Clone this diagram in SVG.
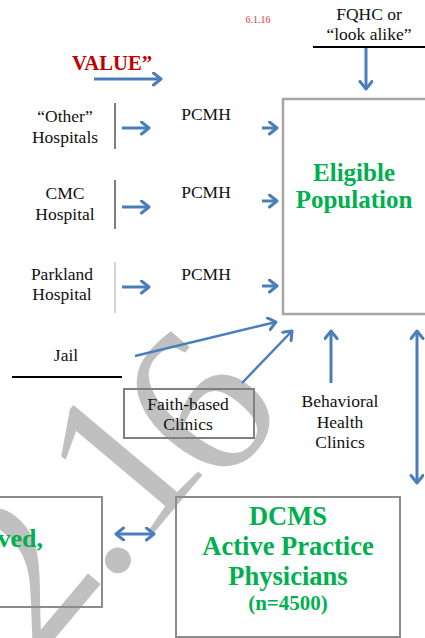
<svg xmlns="http://www.w3.org/2000/svg" width="425" height="638" viewBox="0 0 425 638">
<style>
.lbl{font-family:"Liberation Serif",serif;font-size:17.5px;fill:#111;text-anchor:middle}
.grn{font-family:"Liberation Serif",serif;font-weight:bold;fill:#00b050;text-anchor:middle}
.arr{stroke:#4a7ebb;stroke-width:3;fill:none}
.arrt{stroke:#4a7ebb;stroke-width:2.5;fill:none}
.box{fill:none;stroke:#8c8c8c;stroke-width:2}
</style>
<defs>
<marker id="ah" markerUnits="userSpaceOnUse" markerWidth="14" markerHeight="16" refX="9" refY="7" orient="auto-start-reverse">
<path d="M1.5,1 L9,7 L1.5,13" fill="none" stroke="#4a7ebb" stroke-width="3" stroke-linecap="round" stroke-linejoin="round"/>
</marker>
</defs>
<rect width="425" height="638" fill="#ffffff"/>
<g id="watermark">
<text transform="translate(38,671) rotate(-50)" x="10 109 160 252" y="-8 0 0 24" font-family="Liberation Serif, serif" font-size="218" fill="#c0c0c0">2.16</text>
</g>
<g id="date"><text x="258" y="23" font-family="Liberation Serif, serif" font-size="10" fill="#e8363c" text-anchor="middle">6.1.16</text></g>
<g id="fqhc">
<text class="lbl" x="369" y="20">FQHC or</text>
<text class="lbl" x="369" y="40">“look alike”</text>
<line x1="313" y1="47" x2="425" y2="47" stroke="#000" stroke-width="2"/>
</g>
<g id="value"><text x="112" y="70" font-family="Liberation Serif, serif" font-weight="bold" font-size="22" fill="#c00000" text-anchor="middle" textLength="80" lengthAdjust="spacingAndGlyphs">VALUE”</text></g>
<g id="other-hospitals">
<text class="lbl" x="65" y="122">“Other”</text>
<text class="lbl" x="65" y="143">Hospitals</text>
<line x1="115" y1="103" x2="115" y2="149" stroke="#808080" stroke-width="2"/>
</g>
<g id="pcmh1"><text class="lbl" x="206" y="120">PCMH</text></g>
<g id="cmc-hospital">
<text class="lbl" x="65" y="199">CMC</text>
<text class="lbl" x="65" y="220">Hospital</text>
<line x1="115" y1="180" x2="115" y2="229" stroke="#808080" stroke-width="2"/>
</g>
<g id="pcmh2"><text class="lbl" x="206" y="198">PCMH</text></g>
<g id="parkland-hospital">
<text class="lbl" x="62" y="280">Parkland</text>
<text class="lbl" x="62" y="300">Hospital</text>
<line x1="115" y1="262" x2="115" y2="313" stroke="#d4d4d4" stroke-width="2"/>
</g>
<g id="pcmh3"><text class="lbl" x="206" y="280">PCMH</text></g>
<g id="eligible-population">
<rect x="283" y="99" width="150" height="215" fill="none" stroke="#a6a6a6" stroke-width="2.5"/>
<text class="grn" x="354" y="181" font-size="25">Eligible</text>
<text class="grn" x="354" y="208" font-size="25">Population</text>
</g>
<g id="jail">
<text class="lbl" x="66" y="361">Jail</text>
<line x1="12" y1="377" x2="122" y2="377" stroke="#000" stroke-width="2"/>
</g>
<g id="faith-based">
<rect x="124" y="389" width="130" height="49" fill="none" stroke="#808080" stroke-width="2"/>
<text class="lbl" x="188" y="410">Faith-based</text>
<text class="lbl" x="188" y="430">Clinics</text>
</g>
<g id="behavioral">
<text class="lbl" x="340" y="407">Behavioral</text>
<text class="lbl" x="340" y="428">Health</text>
<text class="lbl" x="340" y="448">Clinics</text>
</g>
<g id="left-box">
<rect x="-20" y="497" width="122" height="110" class="box"/>
<text class="grn" x="43" y="547" font-size="26" style="text-anchor:end">ved,</text>
</g>
<g id="dcms">
<rect x="176" y="497" width="224" height="140" class="box"/>
<text class="grn" x="288" y="525" font-size="26.5">DCMS</text>
<text class="grn" x="288" y="555" font-size="26.5">Active Practice</text>
<text class="grn" x="288" y="585" font-size="26.5">Physicians</text>
<text class="grn" x="288" y="610" font-size="21">(n=4500)</text>
</g>
<g id="connectors">
<line class="arr" x1="366" y1="48" x2="366" y2="89" marker-end="url(#ah)"/>
<line class="arr" x1="94" y1="79" x2="161" y2="79" marker-end="url(#ah)"/>
<line class="arr" x1="122" y1="128" x2="149" y2="128" marker-end="url(#ah)"/>
<line class="arr" x1="262" y1="128" x2="277" y2="128" marker-end="url(#ah)"/>
<line class="arr" x1="122" y1="207" x2="149" y2="207" marker-end="url(#ah)"/>
<line class="arr" x1="262" y1="201" x2="277" y2="201" marker-end="url(#ah)"/>
<line class="arr" x1="122" y1="287" x2="149" y2="287" marker-end="url(#ah)"/>
<line class="arr" x1="262" y1="286" x2="277" y2="286" marker-end="url(#ah)"/>
<line class="arrt" x1="135" y1="356" x2="276" y2="322" marker-end="url(#ah)"/>
<line class="arrt" x1="242" y1="383" x2="292" y2="331" marker-end="url(#ah)"/>
<line class="arr" x1="331" y1="383" x2="331" y2="331" marker-end="url(#ah)"/>
<line class="arr" x1="417" y1="331" x2="417" y2="483" marker-start="url(#ah)" marker-end="url(#ah)"/>
<line class="arr" x1="116" y1="534" x2="154" y2="534" marker-start="url(#ah)" marker-end="url(#ah)"/>
</g>
</svg>
